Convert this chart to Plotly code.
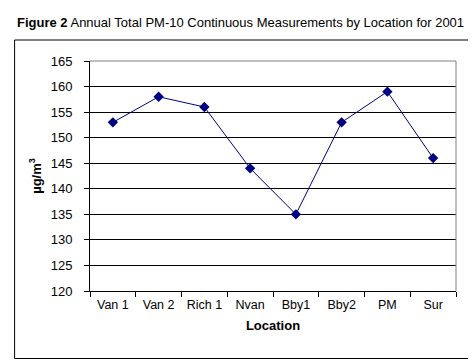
import plotly.graph_objects as go

locations = ["Van 1", "Van 2", "Rich 1", "Nvan", "Bby1", "Bby2", "PM", "Sur"]
pm10 = [153, 158, 156, 144, 135, 153, 159, 146]
y_ticks = [120, 125, 130, 135, 140, 145, 150, 155, 160, 165]

W, H = 476, 361
L, R, T, B = 81.5, 448, 53, 283  # plot area in pixels

def px(x):
    return (x - L) / (R - L)

def py(y):
    return (B - y) / (B - T)

fig = go.Figure()
fig.add_trace(go.Scatter(
    x=locations, y=pm10, mode="lines+markers",
    line=dict(color="#000080", width=1),
    marker=dict(symbol="diamond", size=8, color="#000080"),
    showlegend=False, cliponaxis=False,
))

font = "Liberation Sans, Arial, sans-serif"
fig.update_layout(
    width=W, height=H,
    margin=dict(l=L, r=W - R, t=T, b=H - B, pad=0),
    paper_bgcolor="white", plot_bgcolor="white",
    font=dict(family=font, size=13, color="black"),
    xaxis=dict(
        type="category", range=[-0.5, 7.5], tickson="boundaries",
        ticks="outside", ticklen=5, tickcolor="black", tickwidth=1,
        showline=True, linecolor="black", linewidth=1, showgrid=False,
        tickfont=dict(size=12.5, family=font), ticklabelstandoff=2, tickangle=0,
        title=dict(text="<b>Location</b>", font=dict(size=13, family=font), standoff=9),
        fixedrange=True,
    ),
    yaxis=dict(
        range=[120, 165], tickvals=y_ticks,
        ticks="outside", ticklen=5, tickcolor="black", tickwidth=1,
        showline=True, linecolor="black", linewidth=1,
        showgrid=True, gridcolor="black", gridwidth=1, zeroline=False,
        tickfont=dict(size=13, family=font), ticklabelstandoff=9,
        title=dict(text="<b>µg/m<sup>3</sup></b>", font=dict(size=13, family=font), standoff=6),
        fixedrange=True,
    ),
    shapes=[
        # plot area top and right border (gray)
        dict(type="line", xref="paper", yref="paper", x0=0, x1=1, y0=1, y1=1,
             line=dict(color="#808080", width=1), layer="above"),
        dict(type="line", xref="paper", yref="paper", x0=1, x1=1, y0=0, y1=1,
             line=dict(color="#808080", width=1), layer="above"),
        # outer chart border
        dict(type="rect", xref="paper", yref="paper",
             x0=px(6), x1=px(463.5), y0=py(350.5), y1=py(32),
             line=dict(color="black", width=1), fillcolor="rgba(0,0,0,0)", layer="above"),
    ],
    annotations=[
        dict(text="<b>Figure 2</b> Annual Total PM-10 Continuous Measurements by Location for 2001",
             xref="paper", yref="paper", x=px(6), y=py(14), xanchor="left", yanchor="middle",
             showarrow=False, font=dict(size=13, family=font, color="black")),
    ],
)

fig.write_html("out.html")
